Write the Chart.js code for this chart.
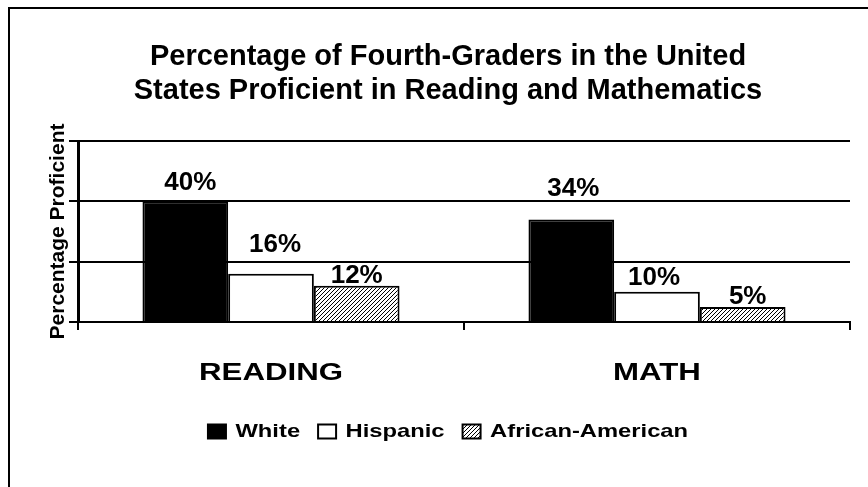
<!DOCTYPE html>
<html>
<head>
<meta charset="utf-8">
<script src="https://cdn.jsdelivr.net/npm/chart.js@4.4.0/dist/chart.umd.min.js"></script>
<style>
  html, body { margin: 0; padding: 0; background: #fff; }
  #wrap { width: 868px; height: 487px; position: relative; }
</style>
</head>
<body>
<div id="wrap"><canvas id="c" width="868" height="487"></canvas></div>
<script>
// ---- data ----
const categories = ['READING', 'MATH'];
const seriesNames = ['White', 'Hispanic', 'African-American'];
const whiteValues = [40, 34];
const hispanicValues = [16, 10];
const africanAmericanValues = [12, 5];
const yTicks = [0, 20, 40, 60];
const titleLines = ['Percentage of Fourth-Graders in the United', 'States Proficient in Reading and Mathematics'];
const yAxisTitle = 'Percentage Proficient';

const FAMILY = "'Liberation Sans', Arial, Helvetica, sans-serif";

function makeHatch() {
  const s = 4;
  const c = document.createElement('canvas');
  c.width = s; c.height = s;
  const g = c.getContext('2d');
  g.fillStyle = '#fff';
  g.fillRect(0, 0, s, s);
  g.strokeStyle = '#000';
  g.lineWidth = 1;
  g.beginPath();
  g.moveTo(0, s); g.lineTo(s, 0);
  g.moveTo(-1, 1); g.lineTo(1, -1);
  g.moveTo(s - 1, s + 1); g.lineTo(s + 1, s - 1);
  g.stroke();
  return g.createPattern(c, 'repeat');
}
const hatch = makeHatch();

const frameBorder = {
  id: 'frameBorder',
  beforeDraw(chart) {
    const ctx = chart.ctx;
    ctx.save();
    ctx.fillStyle = '#fff';
    ctx.fillRect(0, 0, chart.width, chart.height);
    ctx.strokeStyle = '#000';
    ctx.lineWidth = 2;
    ctx.beginPath();
    ctx.moveTo(9, chart.height);
    ctx.lineTo(9, 8);
    ctx.lineTo(chart.width, 8);
    ctx.stroke();
    ctx.restore();
  }
};

// horizontally widened lettering (the original uses an extended face)
const widen = {
  id: 'widen',
  beforeLayout(chart, args, opts) {
    const wrap = (obj, name, sx) => {
      if (!obj || obj['_wd_' + name]) return;
      const orig = obj[name];
      obj[name] = function (...a) {
        const c = this.ctx;
        const f = c.fillText, m = c.measureText;
        c.fillText = function (t, x, y, mw) {
          this.save();
          this.translate(x, y);
          this.scale(sx, 1);
          if (mw === undefined || mw === null) f.call(this, t, 0, 0);
          else f.call(this, t, 0, 0, mw / sx);
          this.restore();
        };
        c.measureText = function (t) {
          const r = m.call(this, t);
          return { width: r.width * sx, actualBoundingBoxAscent: r.actualBoundingBoxAscent, actualBoundingBoxDescent: r.actualBoundingBoxDescent };
        };
        try { return orig.apply(this, a); }
        finally { delete c.fillText; delete c.measureText; }
      };
      obj['_wd_' + name] = true;
    };
    wrap(chart.legend, 'fit', opts.legend);
    wrap(chart.legend, 'draw', opts.legend);
    if (chart.scales && chart.scales.x) wrap(chart.scales.x, 'drawLabels', opts.x);
  }
};

const valueLabels = {
  id: 'valueLabels',
  afterDatasetsDraw(chart, args, opts) {
    const ctx = chart.ctx;
    ctx.save();
    ctx.font = opts.font;
    ctx.fillStyle = '#000';
    ctx.textAlign = 'center';
    ctx.textBaseline = 'middle';
    chart.data.datasets.forEach((ds, di) => {
      const meta = chart.getDatasetMeta(di);
      meta.data.forEach((bar, i) => {
        const n = opts.nudges[di][i];
        ctx.fillText(ds.data[i] + '%', bar.x + n[0], bar.y - n[1]);
      });
    });
    ctx.restore();
  }
};

new Chart(document.getElementById('c'), {
  type: 'bar',
  data: {
    labels: categories,
    datasets: [
      { label: seriesNames[0], data: whiteValues, backgroundColor: '#000', borderColor: '#000', borderWidth: 2 },
      { label: seriesNames[1], data: hispanicValues, backgroundColor: '#fff', borderColor: '#000', borderWidth: 2 },
      { label: seriesNames[2], data: africanAmericanValues, backgroundColor: hatch, borderColor: '#000', borderWidth: 2 }
    ]
  },
  options: {
    responsive: false,
    animation: false,
    devicePixelRatio: 1,
    layout: { padding: { left: 46, right: 18, top: 0, bottom: 36 } },
    datasets: { bar: { categoryPercentage: 0.666, barPercentage: 1.0 } },
    scales: {
      x: {
        offset: true,
        grid: { display: true, offset: true, drawOnChartArea: false, drawTicks: true, tickLength: 8, color: '#000', lineWidth: 2 },
        border: { display: true, color: '#000', width: 2 },
        ticks: {
          color: '#000', padding: 29, maxRotation: 0, autoSkip: false,
          font: { family: FAMILY, weight: 'bold', size: 24, lineHeight: 1.2 }
        },
        afterFit(scale) { scale.height = 82; }
      },
      y: {
        min: yTicks[0],
        max: yTicks[yTicks.length - 1],
        ticks: { display: false, stepSize: yTicks[1] - yTicks[0] },
        grid: { color: '#000', lineWidth: 2, drawTicks: true, tickLength: 9 },
        border: { display: true, color: '#000', width: 3 },
        title: {
          display: true, text: yAxisTitle, color: '#000',
          font: { family: FAMILY, weight: 'bold', size: 21, lineHeight: 1.2 },
          padding: { top: 0, bottom: 0 }
        },
        afterFit(scale) { scale.width = 32; }
      }
    },
    plugins: {
      title: {
        display: true, text: titleLines, color: '#000',
        font: { family: FAMILY, weight: 'bold', size: 29, lineHeight: 34 / 29 },
        padding: { top: 40, bottom: 33 }
      },
      legend: {
        display: true, position: 'bottom',
        labels: {
          color: '#000', boxWidth: 18, boxHeight: 14, padding: 18,
          font: { family: FAMILY, weight: 'bold', size: 19 }
        }
      },
      tooltip: { enabled: false },
      widen: { legend: 1.25, x: 1.3 },
      valueLabels: {
        font: "bold 26px 'Liberation Sans', Arial, sans-serif",
        nudges: [
          [[5, 18.5], [2, 31]],
          [[4, 28.5], [-3, 14]],
          [[0, 9.5], [5, 10]]
        ]
      }
    }
  },
  plugins: [frameBorder, widen, valueLabels]
});
</script>
</body>
</html>
